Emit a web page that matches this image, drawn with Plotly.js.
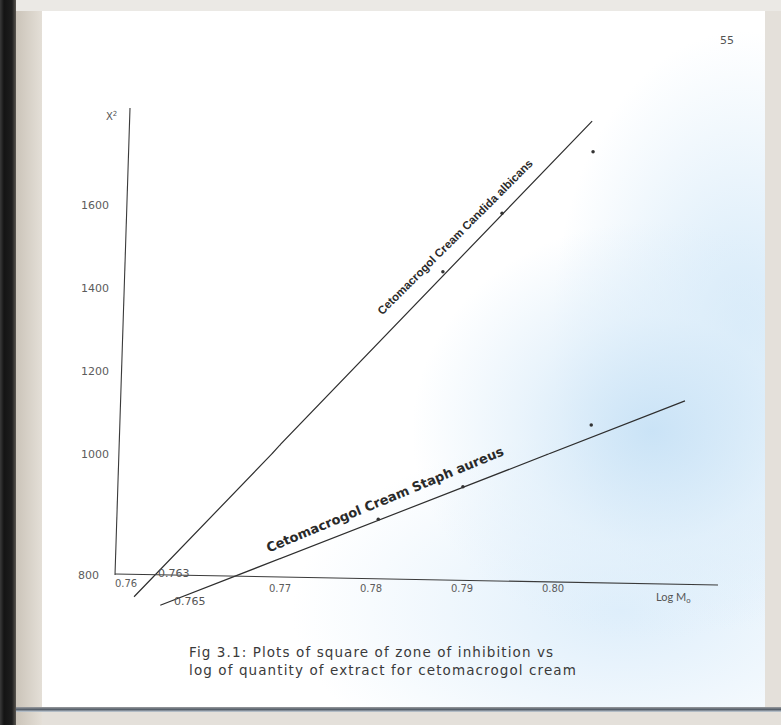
<!DOCTYPE html>
<html>
<head>
<meta charset="utf-8">
<script src="https://cdn.plot.ly/plotly-3.0.1.min.js"></script>
<style>
  html, body { margin: 0; padding: 0; width: 781px; height: 725px; overflow: hidden; background: #e4e0da; }
  #bg { position: absolute; left: 0; top: 0; width: 781px; height: 725px; }
  #strip { position: absolute; left: 0; top: 0; width: 16px; height: 725px;
    background: linear-gradient(to right, #3a3a3a 0%, #141414 25%, #1e1e1e 75%, #5a5650 100%); }
  #band { position: absolute; left: 16px; top: 0; width: 26px; height: 725px;
    background: linear-gradient(to right, #cbc4b9, #e4dfd7); }
  #top { position: absolute; left: 16px; top: 0; width: 765px; height: 11px; background: #ebe9e5; }
  #page { position: absolute; left: 42px; top: 11px; width: 723px; height: 697px; background: #ffffff;
    background-image:
      radial-gradient(ellipse 240px 210px at 610px 420px, rgba(200,226,246,0.95), rgba(222,238,250,0.65) 55%, rgba(255,255,255,0) 100%),
      radial-gradient(ellipse 190px 300px at 700px 320px, rgba(208,231,248,0.9), rgba(255,255,255,0) 100%),
      radial-gradient(ellipse 330px 180px at 580px 600px, rgba(216,235,250,0.85), rgba(255,255,255,0) 100%); }
  #bottom { position: absolute; left: 16px; top: 707px; width: 765px; height: 5px;
    background: linear-gradient(to bottom, #9a9c9f, #57606b, #c9d3dc); }
  #plot { position: absolute; left: 0; top: 0; width: 781px; height: 725px; }
  #plot g.annotation[data-index="7"] text, #plot g.annotation[data-index="8"] text { letter-spacing: 1.1px; }
</style>
</head>
<body>
<div id="bg"><div id="strip"></div><div id="band"></div><div id="top"></div><div id="page"></div><div id="bottom"></div></div>
<div id="plot"></div>
<script>
// ---- Data (log Mo vs X^2) ----
// Fitted lines as drawn (end points and the points where they cross the axis breaks)
const candidaLineX = [0.7611, 0.7695, 0.7700, 0.8043];
const candidaLineY = [764, 1000, 1022, 1802];
const staphLineX = [0.7627, 0.7700, 0.7995, 0.8145];
const staphLineY = [750, 827, 1000, 1128];
// Marks on the lines and plotted points
const candidaPointX = [0.7879, 0.7944, 0.8044];
const candidaPointY = [1439, 1580, 1728];
const staphPointX = [0.7808, 0.7901, 0.8042];
const staphPointY = [892, 946, 1070];
// Tick labels
const xTickLeft = [0.76];
const xTickRight = [0.77, 0.78, 0.79, 0.80];
const yTickLow = [800];
const yTickHigh = [1000, 1200, 1400, 1600];
const candidaLabel = 'Cetomacrogol Cream Candida albicans';
const staphLabel = 'Cetomacrogol Cream Staph aureus';
const captionLines = ['Fig 3.1: Plots of square of zone of inhibition vs', 'log of quantity of extract for cetomacrogol cream'];

// ---- Layout helpers (page pixel -> paper fraction) ----
const W = 781, H = 725;
const px = v => v / W;
const py = v => 1 - v / H;

const subplots = [['x', 'y'], ['x2', 'y'], ['x', 'y2'], ['x2', 'y2']];
const traces = [];
function addEverywhere(base) {
  subplots.forEach(([xa, ya]) => traces.push(Object.assign({}, base, {xaxis: xa, yaxis: ya, showlegend: false, hoverinfo: 'skip', cliponaxis: true})));
}
const ink = '#2e2e2e';
addEverywhere({x: candidaLineX, y: candidaLineY, mode: 'lines', line: {color: ink, width: 1.2}, name: 'Candida albicans'});
addEverywhere({x: staphLineX, y: staphLineY, mode: 'lines', line: {color: ink, width: 1.2}, name: 'Staph aureus'});
addEverywhere({x: candidaPointX, y: candidaPointY, mode: 'markers', marker: {color: '#333', size: 3.5}, name: 'Candida points'});
addEverywhere({x: staphPointX, y: staphPointY, mode: 'markers', marker: {color: '#333', size: 3.5}, name: 'Staph points'});

const tickFontX = {family: 'DejaVu Sans', size: 10, color: '#5c5c5c'};
const tickFontY = {family: 'DejaVu Sans', size: 11, color: '#5c5c5c'};
const common = {showgrid: false, zeroline: false, showline: false, ticks: '', fixedrange: true, tickmode: 'array'};

function note(x, y, text, font, extra) {
  return Object.assign({xref: 'paper', yref: 'paper', x: px(x), y: py(y), text: text, showarrow: false,
    xanchor: 'center', yanchor: 'middle', font: font}, extra || {});
}
const grey = {family: 'DejaVu Sans', size: 11, color: '#555'};

const layout = {
  width: W, height: H,
  margin: {l: 0, r: 0, t: 0, b: 0},
  paper_bgcolor: 'rgba(0,0,0,0)', plot_bgcolor: 'rgba(0,0,0,0)',
  showlegend: false,
  xaxis: Object.assign({}, common, {domain: [px(116), px(280)], range: [0.76, 0.77], anchor: 'free', position: py(576),
    tickvals: xTickLeft, ticktext: xTickLeft.map(v => v.toFixed(2)), tickfont: tickFontX, ticklabelshift: 10}),
  xaxis2: Object.assign({}, common, {domain: [px(280), px(718)], range: [0.77, 0.81813], anchor: 'free', position: py(581),
    tickvals: xTickRight, ticktext: xTickRight.map(v => v.toFixed(2)), tickfont: tickFontX}),
  yaxis: Object.assign({}, common, {domain: [py(612), py(454)], range: [738.8, 1000], anchor: 'x',
    tickvals: yTickLow, ticktext: yTickLow.map(String), tickfont: tickFontY, ticklabelstandoff: 16}),
  yaxis2: Object.assign({}, common, {domain: [py(454), py(108)], range: [1000, 1833.7], anchor: 'free', position: px(119),
    tickvals: yTickHigh, ticktext: yTickHigh.map(String), tickfont: tickFontY, ticklabelstandoff: 10}),
  shapes: [
    {type: 'line', xref: 'paper', yref: 'paper', x0: px(115), y0: py(574), x1: px(718), y1: py(585), line: {color: '#3a3a3a', width: 1.1}},
    {type: 'line', xref: 'paper', yref: 'paper', x0: px(115), y0: py(575), x1: px(130), y1: py(108), line: {color: '#3a3a3a', width: 1.1}}
  ],
  annotations: [
    note(727, 40, '55', grey),
    note(111, 116, 'X<sup>2</sup>', {family: 'DejaVu Sans', size: 10, color: '#555'}),
    note(174, 573, '0.763', grey),
    note(190, 601, '0.765', grey),
    note(673, 597, 'Log M<sub>o</sub>', {family: 'Lato', size: 11, color: '#555'}),
    note(455, 237, '<b>' + candidaLabel + '</b>', {family: 'Liberation Sans', size: 11.5, color: '#2a2a2a'}, {textangle: -45}),
    note(385, 499, '<b>' + staphLabel + '</b>', {family: 'DejaVu Sans', size: 13, color: '#2a2a2a'}, {textangle: -22.5}),
    note(214, 652, captionLines[0], {family: 'DejaVu Sans', size: 13.5, color: '#3a3a3a'}, {xanchor: 'left'}),
    note(214, 670, captionLines[1], {family: 'DejaVu Sans', size: 13.5, color: '#3a3a3a'}, {xanchor: 'left'})
  ]
};

Plotly.newPlot('plot', traces, layout, {staticPlot: true, displayModeBar: false});
</script>
</body>
</html>
